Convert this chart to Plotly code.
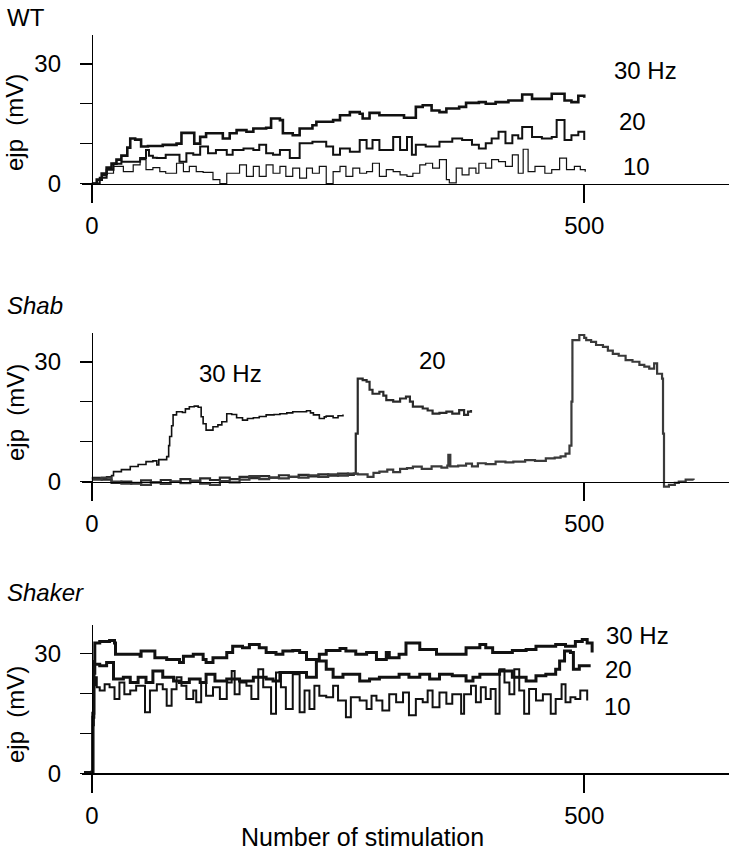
import plotly.graph_objects as go

# ---------------- data ----------------
# each trace: list of (stimulation number, ejp in mV)
wt_30hz = [(0,0),(5,1),(10,2.5),(15,4),(20,5),(25,6),(30,7),(36,9),(39,11.3),(44,11),(50,9.3),(57,9.4),
           (72,9.7),(86,10),(91,12.7),(99,12.7),(104,10),(110,11.7),(116,12.6),(130,12.6),(133,11.3),(140,12.6),
           (147,13.4),(157,13),(164,13.8),(177,14),(182,16.3),(191,15.9),(194,12.6),(204,12.1),(211,13.8),
           (224,14.6),(228,15.5),(245,15.9),(252,17.1),(262,17.9),(272,17.5),(275,16.3),(282,17.7),(292,17.1),
           (306,17.1),(317,16.5),(329,19.2),(336,19.6),(345,18.3),(353,17.9),(360,18.8),(373,19.2),(380,20.2),
           (393,20.4),(400,20),(410,20.4),(423,20.8),(437,22.3),(447,21.2),(460,21.2),(467,22.5),(475,22.5),
           (480,20.8),(487,20.4),(494,22),(500,21.5)]
wt_20hz = [(0,0),(8,1.5),(15,3.5),(22,5),(30,5.5),(40,5.5),(49,6.4),(55,8.4),(58,7),(62,6.5),(66,6.4),(75,7.2),
           (86,7.2),(89,5.5),(96,7.6),(103,7.2),(110,9.3),(118,7.6),(126,8.4),(137,7.2),(143,8.4),(154,8.8),
           (164,8.4),(170,9.7),(177,7.6),(184,7.2),(191,8.4),(201,6.4),(208,6.4),(211,10.1),(224,10.5),(238,9.3),
           (245,7.2),(252,8.8),(262,8),(272,10.9),(279,8.8),(285,10.9),(292,8.4),(299,8.4),(306,11.7),(313,8.4),
           (320,11.7),(325,7.2),(329,9.7),(339,9.3),(353,10.5),(366,11.3),(376,10.9),(386,9.7),(393,8.8),
           (400,10.1),(406,11.3),(413,13),(420,10.1),(427,12.1),(433,11.3),(437,14.2),(447,11.7),(457,11.3),
           (467,11.7),(472,15.9),(477,15.9),(480,10.9),(487,12.1),(494,13),(500,10.9)]
wt_10hz = [(0,0),(5,1),(10,2),(15,2.6),(22,4.3),(32,3),(42,4.7),(49,6),(55,3.5),(62,4),(69,3),(75,2.6),(86,5.1),
           (93,3),(99,4.3),(106,3),(113,2.8),(123,1),(130,0),(137,2.6),(143,2.6),(150,4.7),(157,1.8),(164,4.3),
           (170,1.8),(177,4.7),(184,2.6),(191,4.3),(197,1.8),(204,3.9),(211,1.4),(218,3.9),(224,2.6),(231,4.3),
           (238,0),(245,3),(252,4.3),(258,1.8),(265,3.9),(272,2.6),(279,3),(285,5.1),(292,1.8),(299,3.5),(306,3),
           (313,2.2),(320,1.8),(326,2.6),(333,4.7),(339,5.1),(346,3.9),(353,6),(360,1),(363,0.2),(370,3.9),
           (376,2.2),(383,3.9),(390,2.6),(393,5.1),(400,3.9),(406,6),(413,5.5),(420,4.3),(427,7.2),(433,2.6),
           (438,8.6),(443,3),(450,4.3),(460,2.6),(467,3.5),(475,6.4),(482,3.5),(490,4.3),(496,3.5),(501,3)]

shab_30hz = [(0,1),(8,0.8),(15,1.2),(20,1.5),(22,2.5),(30,3),(39,3.8),(47,4.3),(55,5),(62,5.2),(66,4.2),(68,5.5),
             (76,6.25),(78,9),(79,11.3),(81,14),(82.5,16.7),(86,17.5),(92,17.3),(95,18.2),(99,18.75),(104,18.9),
             (108,18.6),(111,16.25),(113,14.5),(116,12.9),(123,13.75),(128,14.2),(132,15),(137,17),(142,16.8),
             (147,16),(153,15.4),(158,15.8),(164,16),(170,16.3),(177,16.7),(185,16.8),(191,17),(198,17.2),
             (204,17.5),(211,17.5),(218,17.75),(222,17.2),(225,16.7),(231,15.8),(236,16.2),(238,16.4),(245,16),
             (250,16.5),(255,16.8)]
shab_20hz = [(0,0.8),(10,0.5),(20,-0.3),(30,0),(40,-0.5),(50,0.3),(60,-0.2),(70,0.4),(80,0),(90,0.6),(100,0.2),
             (110,0.8),(120,0.4),(130,1),(140,0.6),(150,1.2),(160,0.9),(170,1.4),(180,1),(190,1.6),(200,1.2),
             (210,1.7),(220,1.3),(230,1.8),(240,1.5),(250,2),(260,1.7),(266,2),(268,12),(270,25.8),(275,25.4),
             (279,25),(282,23),(285,22),(292,22.5),(296,21.5),(299,20.4),(306,20),(313,20.8),(319,21.25),(323,20),
             (326,18.75),(336,18.3),(341,17.8),(346,17),(353,17.2),(360,17.5),(366,17),(373,17.9),(378,16.7),
             (382,17.5),(385,17.9)]
shab_10hz = [(0,0.5),(10,1),(20,0),(30,-0.5),(40,-0.3),(50,-0.8),(60,-0.2),(70,-0.6),(80,0),(90,-0.4),(100,0.2),
             (110,-0.5),(120,-0.8),(130,0.1),(140,-0.2),(150,0.5),(160,1.4),(170,0.6),(180,1),(190,0.8),(200,1.2),
             (210,1),(220,1.6),(230,1.2),(240,1.8),(250,1.5),(260,2),(270,1.8),(280,1.2),(286,2.2),(292,2.5),
             (300,3),(306,2.4),(313,3.2),(320,3.4),(326,3.75),(335,3.2),(345,3.8),(355,3.5),(361,4),(362,6.7),
             (364,3.8),(372,4),(380,4.5),(386,3.8),(392,4.6),(400,4.4),(410,5),(420,4.8),(428,5),(440,5.4),
             (450,5.2),(461,5.8),(470,6),(476,6.3),(481,7),(485,9),(487,20),(488,35.4),(495,36.7),(500,36),
             (502,35.4),(507,35),(512,34.2),(519,33.75),(524,32.8),(529,32),(535,31.5),(542,30.4),(549,30),
             (556,29.2),(561,28.8),(566,28.3),(571,29.6),(574,27),(579,25.8),(580,12),(581,-1.25),(586,-0.8),
             (592,-0.3),(596,0),(603,0.5),(611,0.4)]

shaker_30hz = [(-8,0.2),(0,0.3),(1,15),(2,28),(3,32.6),(8,33),(18,33.2),(23,32.6),(24,29.8),(42,29.8),(49,29.3),
               (50,30.6),(61,30.6),(64,28.9),(76,28.5),(89,27.7),(93,29.3),(103,29.8),(113,28.5),(116,27.7),
               (123,28.9),(137,30.2),(143,31.8),(153,31.4),(160,32.2),(170,31.4),(177,30.2),(187,29.8),(194,30.6),
               (204,30.7),(211,30.2),(218,28.5),(231,29.8),(238,30.7),(252,31.2),(258,30.6),(268,29.8),(279,30.2),
               (289,28.5),(299,30.2),(302,28.9),(312,29.8),(319,32.6),(329,32.6),(333,31),(350,29.8),(370,29.8),
               (380,31.4),(394,32.2),(400,31.4),(407,30.2),(427,30.7),(441,31),(451,31.8),(471,32.2),(481,31.8),
               (491,33),(498,33.5),(503,32.6),(508,30.2)]
shaker_20hz = [(0,0.3),(1,14),(2,25),(3,27.3),(8,26.9),(15,27.7),(22,23.6),(32,24),(39,22.7),(47,24),(55,22.7),
               (62,25.6),(72,24),(83,23.1),(89,22.7),(99,23.6),(110,22.7),(116,24.8),(125,23.1),(137,23.6),
               (150,23.1),(164,24),(177,23.6),(184,23.1),(191,25.2),(208,25.2),(218,24),(228,28.1),(238,26),
               (245,24),(255,24.8),(272,23.1),(282,23.6),(292,24),(299,24),(312,24.8),(322,24),(333,24.8),
               (343,23.6),(353,24.8),(366,24.4),(380,23.1),(387,24),(394,24.8),(414,25.6),(427,24),(441,23.1),
               (451,24.4),(461,24.8),(471,26),(475,28.1),(480,30.6),(486,30.2),(489,26),(495,26.9),(505,27.3)]
shaker_10hz = [(0,0.3),(1,12),(2,22),(3,24),(5,21.5),(8,20.7),(13,22.3),(18,21.5),(23,18.6),(28,22.7),(33,19.8),
               (39,20.7),(45,21.9),(54,15.3),(59,20.7),(66,22.3),(72,21),(76,16.9),(81,21),(86,24),(91,21.9),
               (96,18.6),(103,20.7),(106,17.8),(111,22.7),(116,19.4),(123,21.5),(130,18.6),(137,22.7),(142,25.6),
               (145,19.8),(150,22.7),(157,21.9),(162,18.6),(169,26),(174,21.5),(182,14.9),(187,25.2),(192,21.5),
               (197,16.1),(204,24.8),(211,15.3),(216,20.7),(221,16.1),(226,21.9),(231,19.4),(238,19),(245,21.9),
               (250,18.2),(258,14),(263,19),(272,18.2),(279,16.1),(284,19.4),(289,18.2),(295,15.7),(302,19.8),
               (309,17.8),(316,20.2),(322,14.5),(329,18.6),(336,17.8),(341,20.7),(346,16.5),(353,20.2),(360,17.4),
               (366,19.8),(375,14.9),(378,19.8),(385,21.9),(390,17.8),(395,21.5),(400,18.6),(405,21.1),(410,14.9),
               (414,26),(419,22.7),(424,19.8),(429,26),(434,20.7),(439,14.9),(444,21.1),(451,18.2),(458,19.8),
               (466,14.9),(471,18.6),(477,22.3),(481,17.8),(486,19),(491,18.6),(496,20.7),(503,18.2)]

panel_titles = ["WT", "<i>Shab</i>", "<i>Shaker</i>"]
freq_labels = ["30 Hz", "20", "10"]
y_tickvals = [0, 10, 20, 30]
y_ticktext = ["0", "", "", "30"]
x_tickvals = [0, 500]
x_ticktext = ["0", "500"]
# label anchor positions (data coords) for 30 Hz / 20 / 10 in each panel
label_pos = [
    [(528, 28.3), (533, 15.6), (537.5, 4.2)],
    [(106.5, 27.0), (330.6, 30.2), (540.6, 40.6)],
    [(520, 34.5), (519, 25.9), (518, 16.7)],
]

# ---------------- figure ----------------
W, H = 729, 853
FONT = "Liberation Sans, Arial, Helvetica, sans-serif"
FS = 24

panels = [
    dict(traces=[wt_30hz, wt_20hz, wt_10hz], widths=[2.6, 2.0, 1.2],
         colors=["#111", "#111", "#111"], top=35, bottom=202, yr=[-4.6, 37.2], zero=183.6,
         title_y=2, ylab_y=123),
    dict(traces=[shab_30hz, shab_20hz, shab_10hz], widths=[1.6, 2.2, 2.2],
         colors=["#111", "#2a2a2a", "#3a3a3a"], top=333, bottom=500, yr=[-4.6, 37.2], zero=481.6,
         title_y=290, ylab_y=413),
    dict(traces=[shaker_30hz, shaker_20hz, shaker_10hz], widths=[3.0, 3.0, 2.0],
         colors=["#111", "#111", "#111"], top=625, bottom=792.7, yr=[-4.85, 37.1], zero=773.3,
         title_y=577, ylab_y=715),
]

XL = 82  # px of left end of x axis
xrange_ = [-10, 647]
xdom = [XL / W, 1.0]
x0_paper = (XL + 10 * (W - XL) / 657) / W

fig = go.Figure()
layout = dict(width=W, height=H, margin=dict(l=0, r=0, t=0, b=0),
              paper_bgcolor="white", plot_bgcolor="white", showlegend=False,
              font=dict(family=FONT, size=FS, color="black"))
annotations = []

for i, p in enumerate(panels):
    k = "" if i == 0 else str(i + 1)
    xa, ya = "x" + k, "y" + k
    for tr, w, c in zip(p["traces"], p["widths"], p["colors"]):
        xs = [a for a, b in tr]
        ys = [b for a, b in tr]
        fig.add_trace(go.Scatter(x=xs, y=ys, mode="lines", line=dict(color=c, width=w, shape="hv"),
                                 xaxis=xa, yaxis=ya, hoverinfo="skip"))
    ydom = [1 - p["bottom"] / H, 1 - p["top"] / H]
    layout["xaxis" + k] = dict(domain=xdom, range=xrange_, anchor="free", position=1 - p["zero"] / H,
                               showline=True, linecolor="black", linewidth=1.5, showgrid=False, zeroline=False,
                               ticks="outside", ticklen=18, tickwidth=1.5, tickcolor="black",
                               tickvals=x_tickvals, ticktext=x_ticktext, ticklabelstandoff=2,
                               tickfont=dict(size=FS, family=FONT, color="black"), fixedrange=True)
    layout["yaxis" + k] = dict(domain=ydom, range=p["yr"], anchor="free", position=x0_paper,
                               showline=True, linecolor="black", linewidth=1.5, showgrid=False, zeroline=False,
                               ticks="outside", ticklen=12, tickwidth=1.5, tickcolor="black",
                               tickvals=y_tickvals, ticktext=y_ticktext, ticklabelstandoff=14,
                               tickfont=dict(size=FS, family=FONT, color="black"), fixedrange=True)
    # panel title
    annotations.append(dict(text=panel_titles[i], xref="paper", yref="paper", x=5 / W, y=1 - p["title_y"] / H,
                            xanchor="left", yanchor="top", showarrow=False, font=dict(size=FS)))
    # y axis label
    annotations.append(dict(text="ejp\u00a0 (mV)", xref="paper", yref="paper", x=15 / W, y=1 - p["ylab_y"] / H,
                            xanchor="center", yanchor="middle", textangle=-90, showarrow=False,
                            font=dict(size=FS)))
    # frequency labels
    for lab, (lx, ly) in zip(freq_labels, label_pos[i]):
        annotations.append(dict(text=lab, xref=xa, yref=ya, x=lx, y=ly, xanchor="left", yanchor="middle",
                                showarrow=False, font=dict(size=FS)))

# x axis title (bottom panel)
annotations.append(dict(text="Number of stimulation", xref="x3", yref="paper", x=275, y=0,
                        xanchor="center", yanchor="bottom", showarrow=False, font=dict(size=25)))

layout["annotations"] = annotations
fig.update_layout(**layout)
fig.write_html("out.html", config={"displayModeBar": False, "staticPlot": True},
               post_script="document.body.style.margin='0';document.body.style.overflow='hidden';")
